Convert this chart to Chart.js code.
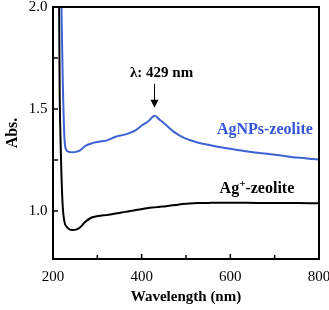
<!DOCTYPE html>
<html>
<head>
<meta charset="utf-8">
<script src="https://cdn.jsdelivr.net/npm/chart.js@4"></script>
<style>
  html, body { margin: 0; padding: 0; background: #fff; overflow: hidden; }
  canvas { display: block; }
</style>
</head>
<body>
<canvas id="uvvis" width="329" height="310"></canvas>
<script>
// wavelength (nm) shared by both spectra
const wavelengths = [213, 215, 217, 219, 222, 226, 230, 236, 244, 252, 260, 273, 285, 296, 310, 320, 341, 364, 387, 402, 415, 429, 442, 455, 466, 477, 492, 508, 526, 550, 571, 600, 616, 661, 706, 751, 800];
const agnpsZeolite = [2.9, 2.6, 2.3, 2.0, 1.64, 1.35, 1.30, 1.29, 1.288, 1.29, 1.296, 1.319, 1.330, 1.337, 1.342, 1.345, 1.364, 1.376, 1.397, 1.422, 1.44, 1.467, 1.445, 1.422, 1.40, 1.382, 1.362, 1.348, 1.336, 1.325, 1.315, 1.305, 1.299, 1.286, 1.275, 1.262, 1.252];
const agIonZeolite = [2.3, 1.6, 1.35, 1.18, 1.02, 0.946, 0.925, 0.912, 0.907, 0.909, 0.918, 0.947, 0.966, 0.973, 0.978, 0.980, 0.988, 0.996, 1.005, 1.010, 1.015, 1.018, 1.021, 1.024, 1.027, 1.030, 1.034, 1.037, 1.039, 1.040, 1.041, 1.041, 1.041, 1.040, 1.040, 1.039, 1.038];
const seriesNames = ['AgNPs-zeolite', 'Ag+-zeolite'];
const peakNm = 429;
const peakAbs = 1.467;

const serif = "'Liberation Serif', 'Times New Roman', serif";
Chart.defaults.font.family = serif;
Chart.defaults.color = '#000';

const toPoints = (ys) => wavelengths.map((x, i) => ({ x: x, y: ys[i] }));

// fixed scale sizes, no extra room for overhanging labels
const fixSize = (prop, size) => (s) => {
  s[prop] = size;
  s.paddingLeft = s.paddingRight = s.paddingTop = s.paddingBottom = 0;
};

// frame, inward ticks, peak arrow, curve labels
const extras = {
  id: 'extras',
  afterDraw(chart) {
    const { ctx, chartArea: a, scales: { x, y } } = chart;
    ctx.save();
    ctx.strokeStyle = '#000';
    ctx.fillStyle = '#000';
    ctx.lineWidth = 2;
    ctx.beginPath();
    ctx.moveTo(a.left, a.bottom);
    ctx.lineTo(a.left, a.top);
    ctx.lineTo(a.right, a.top);
    ctx.lineTo(a.right, a.bottom);
    ctx.lineTo(a.left, a.bottom);
    ctx.closePath();
    ctx.stroke();

    // inward tick marks, long at labelled values
    ctx.lineWidth = 1.5;
    ctx.beginPath();
    x.ticks.forEach((t) => {
      const tx = x.getPixelForValue(t.value);
      ctx.moveTo(tx, a.bottom);
      ctx.lineTo(tx, a.bottom - (t.value % 200 === 0 ? 5 : 4));
    });
    y.ticks.forEach((t) => {
      const ty = y.getPixelForValue(t.value);
      ctx.moveTo(a.left, ty);
      ctx.lineTo(a.left + 5, ty);
    });
    ctx.stroke();

    // arrow to the plasmon peak
    const px = x.getPixelForValue(peakNm);
    const tip = y.getPixelForValue(peakAbs) - 8;
    ctx.lineWidth = 1;
    ctx.beginPath();
    ctx.moveTo(px, tip - 24);
    ctx.lineTo(px, tip - 6);
    ctx.stroke();
    ctx.beginPath();
    ctx.moveTo(px - 4, tip - 8);
    ctx.lineTo(px + 4, tip - 8);
    ctx.lineTo(px, tip);
    ctx.closePath();
    ctx.fill();

    ctx.textAlign = 'center';
    ctx.textBaseline = 'middle';
    ctx.font = 'bold 15px ' + serif;
    ctx.fillText('\u03bb: ' + peakNm + ' nm', px + 7, tip - 35);

    ctx.font = 'bold 16px ' + serif;
    ctx.fillStyle = '#3355dd';
    ctx.fillText(seriesNames[0], x.getPixelForValue(678), y.getPixelForValue(1.397));

    // Ag+ with a raised plus
    ctx.fillStyle = '#000';
    ctx.textAlign = 'left';
    const wAg = ctx.measureText('Ag').width;
    const wRest = ctx.measureText('-zeolite').width;
    ctx.font = 'bold 11px ' + serif;
    const wPlus = ctx.measureText('+').width;
    const cx = x.getPixelForValue(660), cy = y.getPixelForValue(1.108);
    let sx = cx - (wAg + wPlus + wRest) / 2;
    ctx.font = 'bold 16px ' + serif;
    ctx.fillText('Ag', sx, cy);
    ctx.font = 'bold 11px ' + serif;
    ctx.fillText('+', sx + wAg, cy - 5);
    ctx.font = 'bold 16px ' + serif;
    ctx.fillText('-zeolite', sx + wAg + wPlus, cy);
    ctx.restore();
  }
};

new Chart(document.getElementById('uvvis'), {
  type: 'line',
  data: {
    datasets: [
      {
        label: seriesNames[0],
        data: toPoints(agnpsZeolite),
        borderColor: '#3d63d3',
        borderWidth: 2,
        pointRadius: 0,
        cubicInterpolationMode: 'monotone',
        clip: 0
      },
      {
        label: seriesNames[1],
        data: toPoints(agIonZeolite),
        borderColor: '#000',
        borderWidth: 2,
        pointRadius: 0,
        cubicInterpolationMode: 'monotone',
        clip: 0
      }
    ]
  },
  options: {
    responsive: false,
    animation: false,
    layout: { autoPadding: false, padding: { top: 7, right: 10, left: 0, bottom: 0 } },
    plugins: {
      legend: { display: false },
      tooltip: { enabled: false }
    },
    scales: {
      x: {
        type: 'linear',
        min: 200,
        max: 800,
        afterFit: fixSize('height', 51),
        border: { display: true, color: '#000', width: 2 },
        grid: { display: false, drawTicks: false },
        ticks: {
          stepSize: 100,
          autoSkip: false,
          maxRotation: 0,
          padding: 9,
          font: { size: 15 },
          callback: (v) => (v % 200 === 0 ? String(v) : '')
        },
        title: {
          display: true,
          text: 'Wavelength (nm)',
          font: { size: 15, weight: 'bold' },
          padding: { top: 0, bottom: 4 }
        }
      },
      y: {
        type: 'linear',
        min: 0.765,
        max: 2.0,
        afterFit: fixSize('width', 53),
        border: { display: true, color: '#000', width: 2 },
        grid: { display: false, drawTicks: false },
        ticks: {
          stepSize: 0.25,
          includeBounds: false,
          autoSkip: false,
          padding: 5.5,
          font: { size: 15 },
          callback: (v) => (Math.abs(v * 2 - Math.round(v * 2)) < 1e-6 ? v.toFixed(1) : '')
        },
        title: {
          display: true,
          text: 'Abs.',
          font: { size: 16, weight: 'bold' },
          padding: { top: 3, bottom: 0 }
        }
      }
    }
  },
  plugins: [extras]
});
</script>
</body>
</html>
